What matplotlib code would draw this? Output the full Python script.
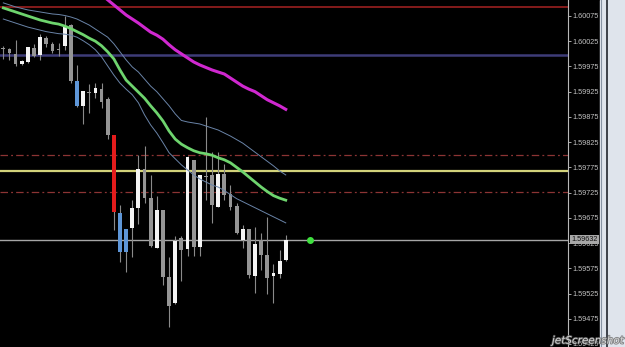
import numpy as np
import matplotlib
matplotlib.use("Agg")
import matplotlib.pyplot as plt
import matplotlib.patheffects as pe
from matplotlib.patches import Rectangle
from matplotlib.lines import Line2D

# candles (oldest -> newest)
opens = [1.60012, 1.60010, 1.60000, 1.59979, 1.59983, 1.60012, 1.59998, 1.60032, 1.60020, 1.60008,
         1.60016, 1.60057, 1.59946, 1.59896, 1.59923, 1.59922, 1.59930, 1.59910, 1.59839, 1.59685,
         1.59653, 1.59655, 1.59695, 1.59772, 1.59714, 1.59616, 1.59691, 1.59558, 1.59506, 1.59635,
         1.59613, 1.59790, 1.59618, 1.59758, 1.59760, 1.59697, 1.59761, 1.59722, 1.59699, 1.59631,
         1.59653, 1.59560, 1.59631, 1.59601, 1.59560, 1.59564, 1.59591]
highs = [1.60015, 1.60012, 1.60027, 1.59987, 1.60014, 1.60020, 1.60039, 1.60035, 1.60024, 1.60022,
         1.60075, 1.60059, 1.59978, 1.59926, 1.59940, 1.59942, 1.59942, 1.59914, 1.59840, 1.59700,
         1.59653, 1.59710, 1.59800, 1.59817, 1.59760, 1.59718, 1.59691, 1.59597, 1.59638, 1.59638,
         1.59798, 1.59790, 1.59760, 1.59875, 1.59806, 1.59806, 1.59782, 1.59740, 1.59704, 1.59661,
         1.59653, 1.59657, 1.59645, 1.59677, 1.59583, 1.59611, 1.59641]
lows = [1.59990, 1.59988, 1.59975, 1.59978, 1.59982, 1.59994, 1.59988, 1.60014, 1.60001, 1.59996,
        1.60008, 1.59943, 1.59895, 1.59861, 1.59883, 1.59912, 1.59893, 1.59831, 1.59651, 1.59587,
        1.59567, 1.59597, 1.59663, 1.59704, 1.59617, 1.59615, 1.59542, 1.59459, 1.59505, 1.59549,
        1.59599, 1.59599, 1.59600, 1.59710, 1.59664, 1.59696, 1.59710, 1.59691, 1.59643, 1.59615,
        1.59556, 1.59527, 1.59572, 1.59525, 1.59506, 1.59555, 1.59589]
closes = [1.60010, 1.60002, 1.59979, 1.59986, 1.60013, 1.59996, 1.60034, 1.60019, 1.60006, 1.60007,
          1.60053, 1.59946, 1.59897, 1.59926, 1.59922, 1.59933, 1.59905, 1.59839, 1.59687, 1.59608,
          1.59608, 1.59695, 1.59772, 1.59714, 1.59619, 1.59691, 1.59558, 1.59501, 1.59630, 1.59611,
          1.59796, 1.59618, 1.59760, 1.59756, 1.59700, 1.59761, 1.59720, 1.59697, 1.59644, 1.59653,
          1.59562, 1.59623, 1.59601, 1.59555, 1.59565, 1.59590, 1.59632]
blue_bars = [12, 19, 20]
red_bars = [18]

# indicator lines, one value per candle
ma_green = [1.60091, 1.60087, 1.60083, 1.60079, 1.60075, 1.60071, 1.60067, 1.60064, 1.60061, 1.60059,
            1.60055, 1.60050, 1.60044, 1.60038, 1.60031, 1.60025, 1.60016, 1.60004, 1.59990, 1.59968,
            1.59948, 1.59936, 1.59924, 1.59912, 1.59897, 1.59883, 1.59867, 1.59847, 1.59831, 1.59821,
            1.59814, 1.59808, 1.59804, 1.59802, 1.59799, 1.59794, 1.59790, 1.59784, 1.59775, 1.59766,
            1.59756, 1.59746, 1.59736, 1.59727, 1.59719, 1.59714, 1.59710]
band_up = [1.60101, 1.60097, 1.60093, 1.60090, 1.60087, 1.60085, 1.60083, 1.60081, 1.60079, 1.60078,
           1.60076, 1.60073, 1.60069, 1.60063, 1.60057, 1.60049, 1.60041, 1.60033, 1.60020, 1.60004,
           1.59988, 1.59974, 1.59964, 1.59950, 1.59936, 1.59925, 1.59911, 1.59897, 1.59881, 1.59868,
           1.59865, 1.59863, 1.59861, 1.59857, 1.59853, 1.59849, 1.59843, 1.59837, 1.59830, 1.59823,
           1.59814, 1.59805, 1.59796, 1.59787, 1.59778, 1.59768, 1.59760]
band_dn = [1.60069, 1.60065, 1.60061, 1.60057, 1.60053, 1.60050, 1.60047, 1.60044, 1.60042, 1.60040,
           1.60039, 1.60037, 1.60033, 1.60026, 1.60018, 1.60008, 1.59994, 1.59976, 1.59958, 1.59942,
           1.59930, 1.59919, 1.59903, 1.59879, 1.59859, 1.59843, 1.59824, 1.59804, 1.59792, 1.59780,
           1.59770, 1.59760, 1.59752, 1.59746, 1.59740, 1.59736, 1.59729, 1.59721, 1.59713, 1.59707,
           1.59701, 1.59695, 1.59689, 1.59683, 1.59677, 1.59671, 1.59665]
ma_slow_start = 16
ma_slow = [1.60117, 1.60107, 1.60097, 1.60087, 1.60077, 1.60069, 1.60061, 1.60052, 1.60043, 1.60037,
           1.60029, 1.60018, 1.60008, 1.60000, 1.59992, 1.59984, 1.59978, 1.59973, 1.59968, 1.59964,
           1.59960, 1.59952, 1.59944, 1.59936, 1.59930, 1.59925, 1.59917, 1.59909, 1.59903, 1.59897,
           1.59890]

# horizontal levels
level_red = 1.60093
level_purple = 1.59998
levels_dashdot = [1.59800, 1.59727]
level_yellow = 1.59767

ticks = [1.59425, 1.59475, 1.59525, 1.59575, 1.59625, 1.59675, 1.59725,
         1.59775, 1.59825, 1.59875, 1.59925, 1.59975, 1.60025, 1.60075]

W, H = 625, 347
fig = plt.figure(figsize=(W / 100, H / 100), dpi=100, facecolor='black')

# window frame at the right (behind everything)
fig.patches.append(Rectangle((600 / W, 0), 25 / W, 1, transform=fig.transFigure,
                             color='#dfe4ec', zorder=-5))
fig.lines.append(Line2D([600.5 / W] * 2, [0, 1], transform=fig.transFigure,
                        color='#8894a4', lw=0.8, zorder=-4))
fig.lines.append(Line2D([606.5 / W] * 2, [0, 1], transform=fig.transFigure,
                        color='#3c4048', lw=1.4, zorder=-4))

ax = fig.add_axes([0, 0, 568 / W, 1])
ax.set_facecolor('black')

x = np.arange(len(opens))
o = np.array(opens)
c = np.array(closes)

#wicks
ax.vlines(x, lows, highs, color='#8a8a8a', lw=0.8, zorder=2)

# bodies
cols = []
for i in range(len(x)):
    if i in red_bars:
        cols.append('#e41c1c')
    elif i in blue_bars:
        cols.append('#5e96d8')
    elif c[i] > o[i]:
        cols.append('#f4f4f4')
    else:
        cols.append('#959595')
bottom = np.minimum(o, c)
height = np.maximum(np.abs(c - o), 0.000025)
ax.bar(x, height, 0.62, bottom=bottom, color=cols, linewidth=0, zorder=3)

# levels
ax.axhline(level_red, color='#9a2020', lw=1.2, zorder=1)
ax.axhline(level_purple, color='#3e3c78', lw=1.8, zorder=1)
for lv in levels_dashdot:
    ax.axhline(lv, color='#8c3434', lw=0.9, dashes=(6, 2.5, 1.5, 2.5), zorder=1)
ax.axhline(level_yellow, color='#d2d27a', lw=1.6, zorder=1)
ax.axhline(closes[-1], color='#a6a6a6', lw=1.0, zorder=1)

# indicators
ax.plot(x, band_up, color='#6a84a8', lw=0.7, zorder=4)
ax.plot(x, band_dn, color='#6a84a8', lw=0.7, zorder=4)
ax.plot(x, ma_green, color='#6ed46e', lw=2.0, zorder=4)
xs = np.arange(ma_slow_start, ma_slow_start + len(ma_slow))
ax.plot(xs, ma_slow, color='#d028d0', lw=2.2, zorder=4)

ax.plot([len(x) + 3], [closes[-1]], 'o', color='#3fe03f', ms=4, zorder=5)

ax.set_xlim(-0.54, 91.97)
ax.set_ylim(1.59419, 1.601067)

ax.yaxis.tick_right()
ax.set_yticks(ticks)
ax.set_yticklabels(['%.5f' % t for t in ticks])
ax.tick_params(axis='y', colors='#c4c4c4', labelsize=5.2, length=2, width=0.6, pad=1)
for lb in ax.get_yticklabels():
    lb.set_family('Liberation Sans')
ax.set_xticks([])
for s in ['left', 'top', 'bottom']:
    ax.spines[s].set_visible(False)
ax.spines['right'].set_color('#b8b8b8')
ax.spines['right'].set_linewidth(0.8)

# current price label
ax.annotate('%.5f' % closes[-1], xy=(1, closes[-1]), xycoords=('axes fraction', 'data'),
            xytext=(2.2, 0), textcoords='offset points', va='center', ha='left',
            fontsize=5.2, family='Liberation Sans', color='#101010', zorder=10,
            annotation_clip=False,
            bbox=dict(boxstyle='square,pad=0.2', fc='#a8a8a8', ec='none'))

# screenshot watermark
fig.text(0.998, 0.004, 'jetScreenshot', ha='right', va='bottom', fontsize=7.5,
         style='italic', color='#f0f0f0', alpha=0.75,
         path_effects=[pe.withStroke(linewidth=1.2, foreground='#606060')])

fig.savefig('out.png', dpi=100, facecolor='black')
